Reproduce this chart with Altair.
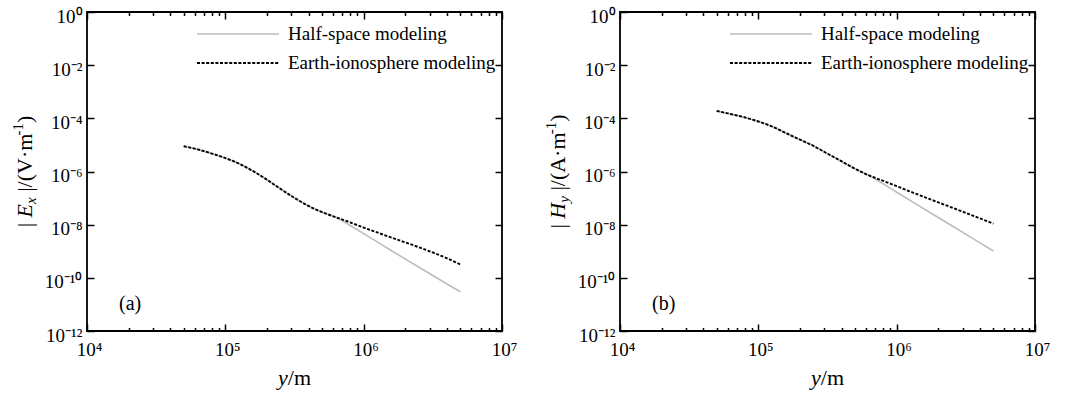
import altair as alt
import pandas as pd

# ---------------- data ----------------
distance_m = [5.0e4, 6.3e4, 7.9e4, 1.0e5, 1.26e5, 1.58e5, 2.0e5, 2.51e5, 3.16e5,
              3.98e5, 5.01e5, 6.31e5, 7.94e5, 1.0e6, 1.58e6, 2.51e6, 3.98e6, 5.0e6]

series_names = ["Half-space modeling", "Earth-ionosphere modeling"]

# panel (a) |Ex| in V/m
ex_half = [8.9e-6, 6.8e-6, 4.8e-6, 3.2e-6, 1.95e-6, 1.05e-6, 4.9e-7, 2.2e-7, 1.02e-7,
           5.1e-8, 2.95e-8, 1.9e-8, 9.5e-9, 4.6e-9, 1.07e-9, 2.5e-10, 6.0e-11, 3.0e-11]
ex_earth = [8.9e-6, 6.8e-6, 4.8e-6, 3.2e-6, 1.95e-6, 1.05e-6, 4.9e-7, 2.2e-7, 1.02e-7,
            5.1e-8, 2.95e-8, 1.9e-8, 1.23e-8, 7.8e-9, 3.3e-9, 1.41e-9, 5.5e-10, 3.2e-10]

# panel (b) |Hy| in A/m
hy_half = [1.9e-4, 1.45e-4, 1.1e-4, 7.6e-5, 4.9e-5, 2.8e-5, 1.58e-5, 9.1e-6, 4.7e-6,
           2.45e-6, 1.26e-6, 7.1e-7, 3.5e-7, 1.66e-7, 3.9e-8, 9.1e-9, 2.1e-9, 1.02e-9]
hy_earth = [1.9e-4, 1.45e-4, 1.1e-4, 7.6e-5, 4.9e-5, 2.8e-5, 1.58e-5, 9.1e-6, 4.7e-6,
            2.45e-6, 1.26e-6, 7.1e-7, 4.5e-7, 2.8e-7, 1.1e-7, 4.4e-8, 1.74e-8, 1.1e-8]

x_major = [1e4, 1e5, 1e6, 1e7]
x_major_exp = [4, 5, 6, 7]
x_major_labels = ["10⁴", "10⁵", "10⁶", "10⁷"]
x_minor_steps = [2, 3, 4, 5, 6, 7, 8, 9]
y_major = [1.0, 1e-2, 1e-4, 1e-6, 1e-8, 1e-10, 1e-12]
y_major_exp = [0, -2, -4, -6, -8, -10, -12]
y_major_labels = ["10⁰", "10⁻²", "10⁻⁴", "10⁻⁶", "10⁻⁸", "10⁻¹⁰", "10⁻¹²"]
panel_tags = ["(a)", "(b)"]

# ---------------- layout / style ----------------
W, H = 415, 319
FONT = "Liberation Serif"
GRAY = "#bdbdbd"
x_minor = [m * d for d in x_major[:-1] for m in x_minor_steps]


def label_expr(exps, labels):
    s = ""
    for e, l in zip(exps, labels):
        s += f"round(log(datum.value)/LN10) == {e} ? '{l}' : "
    return s + "''"


MAJOR_TEST = "abs(log(datum.value)/LN10 - round(log(datum.value)/LN10)) < 0.001"
x_tick_size = {"condition": {"test": MAJOR_TEST, "value": 7}, "value": 3.5}

one = pd.DataFrame({"k": [0]})


def txt(s, x, y, size=19, style="normal", angle=0, align="left", baseline="alphabetic"):
    return alt.Chart(one).mark_text(
        text=s, font=FONT, fontSize=size, fontStyle=style, angle=angle,
        align=align, baseline=baseline, color="black"
    ).encode(x=alt.value(x), y=alt.value(y))


def panel(half, earth, sym, sub, unit_letter, tag):
    n = len(distance_m)
    df = pd.DataFrame({
        "y_m": distance_m * 2,
        "value": half + earth,
        "model": [series_names[0]] * n + [series_names[1]] * n,
    })
    xs = alt.Scale(type="log", domain=[1e4, 1e7], nice=False)
    ys = alt.Scale(type="log", domain=[1e-12, 1], nice=False)

    x_lab = alt.Axis(values=x_major, labelExpr=label_expr(x_major_exp, x_major_labels),
                     ticks=False, tickSize=0, domain=False, grid=False, title=None,
                     labelPadding=9, labelFont=FONT, labelFontSize=19, labelColor="black",
                     labelFlush=False, labelOverlap=False, labelOffset=2)
    y_lab = alt.Axis(values=y_major, labelExpr=label_expr(y_major_exp, y_major_labels),
                     ticks=False, tickSize=0, domain=False, grid=False, title=None,
                     labelPadding=5, labelFont=FONT, labelFontSize=19, labelColor="black",
                     labelFlush=False, labelOverlap=False, labelOffset=4)
    # inward ticks: bottom edge (top-oriented axis pushed down), left edge
    x_in_bottom = alt.Axis(orient="top", offset=-H, values=x_major + x_minor, labels=False,
                           domain=False, grid=False, title=None, ticks=True,
                           tickSize=x_tick_size, tickWidth=1.5, tickColor="black")
    y_in_left = alt.Axis(orient="right", offset=-W, values=y_major, labels=False,
                         domain=False, grid=False, title=None, ticks=True,
                         tickSize=7, tickWidth=1.5, tickColor="black")
    # inward ticks: top edge, right edge
    x_in_top = alt.Axis(orient="bottom", offset=-H, values=x_major + x_minor, labels=False,
                        domain=False, grid=False, title=None, ticks=True,
                        tickSize=x_tick_size, tickWidth=1.5, tickColor="black")
    y_in_right = alt.Axis(orient="left", offset=-W, values=y_major, labels=False,
                          domain=False, grid=False, title=None, ticks=True,
                          tickSize=7, tickWidth=1.5, tickColor="black")

    base = alt.Chart(df)
    half_line = base.transform_filter(alt.datum.model == series_names[0]).mark_line(
        color=GRAY, strokeWidth=1.6, interpolate="monotone"
    ).encode(x=alt.X("y_m:Q", scale=xs, axis=x_lab), y=alt.Y("value:Q", scale=ys, axis=y_lab))
    earth_line = base.transform_filter(alt.datum.model == series_names[1]).mark_line(
        color="black", strokeWidth=1.9, strokeDash=[3, 1.6], interpolate="monotone"
    ).encode(x=alt.X("y_m:Q", scale=xs, axis=x_in_bottom),
             y=alt.Y("value:Q", scale=ys, axis=y_in_left))
    ghost = base.mark_point(opacity=0, size=1).encode(
        x=alt.X("y_m:Q", scale=xs, axis=x_in_top), y=alt.Y("value:Q", scale=ys, axis=y_in_right))

    # legend
    lg1 = alt.Chart(one).mark_rule(color=GRAY, strokeWidth=1.6).encode(
        x=alt.value(110), x2=alt.value(192), y=alt.value(22))
    lg2 = alt.Chart(one).mark_rule(color="black", strokeWidth=1.9, strokeDash=[3, 1.6]).encode(
        x=alt.value(110), x2=alt.value(192), y=alt.value(51))
    lt1 = txt(series_names[0], 201, 22, size=19, baseline="middle")
    lt2 = txt(series_names[1], 201, 51, size=19, baseline="middle")
    tag_t = txt(tag, 32, 292, size=20, baseline="middle")

    # x title: italic y + "/m"
    fs = 22
    xt_w = (0.444 + 0.278 + 0.778) * fs
    x0 = W / 2 - xt_w / 2
    xt1 = txt("y", x0, 373, size=fs, style="italic")
    xt2 = txt("/m", x0 + 0.444 * fs, 373, size=fs)

    # y title, rotated, built from pieces: "|" gap italic sym, italic sub, gap "|/(U·m", sup "-1", ")"
    fsm = 15
    sym_w = {"E": 0.611, "H": 0.722}[sym] * fs
    gap = 0.25 * fs
    widths = [0.2 * fs + gap, sym_w, 0.444 * fsm + gap, 2.561 * fs, (0.333 + 0.5) * fsm, 0.333 * fs]
    total = sum(widths)
    start = H / 2 + total / 2
    pos = []
    acc = start
    for w in widths:
        pos.append(acc)
        acc -= w
    bx = -55
    yt = [
        txt("|", bx, pos[0], size=fs, angle=270),
        txt(sym, bx, pos[1], size=fs, style="italic", angle=270),
        txt(sub, bx + 4, pos[2], size=fsm, style="italic", angle=270),
        txt("|/(" + unit_letter + "·m", bx, pos[3], size=fs, angle=270),
        txt("-1", bx - 9, pos[4], size=fsm, angle=270),
        txt(")", bx, pos[5], size=fs, angle=270),
    ]

    return alt.layer(half_line, earth_line, ghost, lg1, lg2, lt1, lt2, tag_t, xt1, xt2, *yt).resolve_axis(
        x="independent", y="independent").properties(width=W, height=H)


pa = panel(ex_half, ex_earth, "E", "x", "V", panel_tags[0])
pb = panel(hy_half, hy_earth, "H", "y", "A", panel_tags[1])

chart = alt.hconcat(pa, pb, spacing=118, bounds="flush").properties(
    padding={"left": 10, "top": 6, "right": 5, "bottom": 0}, background="white"
).configure(font=FONT).configure_view(stroke="black", strokeWidth=1.8)

chart.save("out.html", embed_options={"renderer": "svg", "actions": False})
